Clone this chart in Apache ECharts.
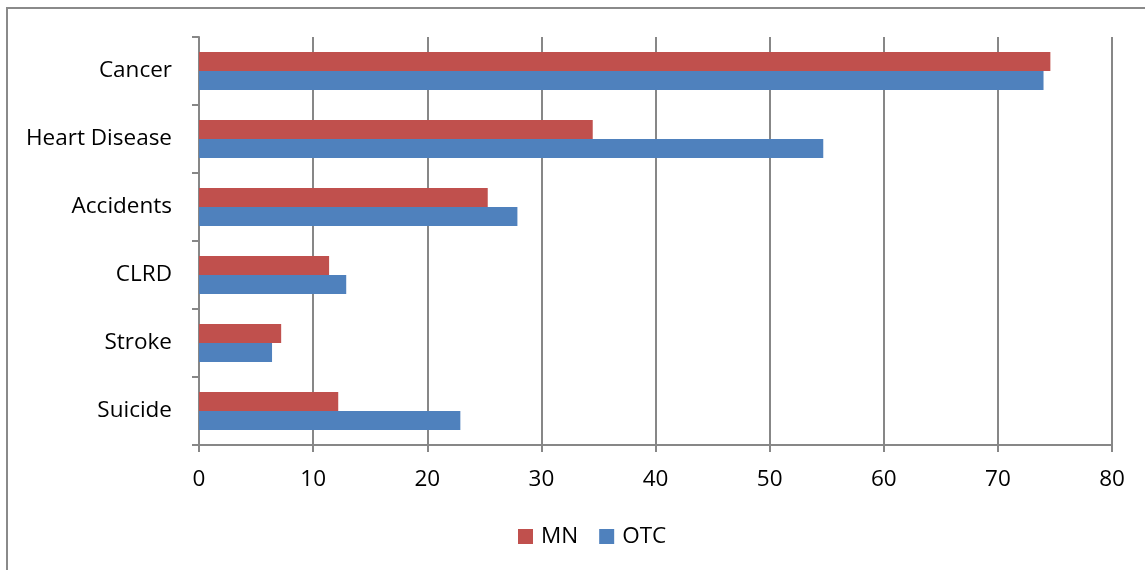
<!DOCTYPE html>
<html>
<head>
<meta charset="utf-8">
<style>
  html, body { margin: 0; padding: 0; background: #fff; }
  #chart { width: 1145px; height: 570px; }
</style>
<script src="https://cdn.jsdelivr.net/npm/echarts@6/dist/echarts.min.js"></script>
</head>
<body>
<div id="chart"></div>
<script>
// Leading causes of death, rate comparison
const categories = ['Cancer', 'Heart Disease', 'Accidents', 'CLRD', 'Stroke', 'Suicide'];
const mnValues = [74.6, 34.5, 25.3, 11.4, 7.2, 12.2];
const otcValues = [74.0, 54.7, 27.9, 12.9, 6.4, 22.9];
const xTicks = [0, 10, 20, 30, 40, 50, 60, 70, 80];

const FONT = '"Open Sans", "Noto Sans", sans-serif';
const FONT_SIZE = 22.5;
const GRID_GREY = '#878787';

const chart = echarts.init(document.getElementById('chart'), null, { renderer: 'canvas' });

chart.setOption({
  animation: false,
  backgroundColor: '#fff',
  textStyle: { fontFamily: FONT },
  graphic: [{
    type: 'rect',
    shape: { x: 7, y: 8, width: 1160, height: 600 },
    style: { fill: 'none', stroke: '#8a8a8a', lineWidth: 2 },
    silent: true
  }],
  grid: { left: 199, right: 33, top: 37, bottom: 125 },
  legend: {
    top: 520,
    left: 513,
    itemWidth: 15,
    itemHeight: 15,
    itemGap: 21,
    icon: 'rect',
    textStyle: { fontFamily: FONT, fontSize: FONT_SIZE, color: '#000', padding: [0, 0, 0, 3] },
    data: ['MN', 'OTC']
  },
  xAxis: {
    type: 'value',
    min: xTicks[0],
    max: xTicks[xTicks.length - 1],
    interval: 10,
    axisLine: { show: true, lineStyle: { color: GRID_GREY, width: 2 } },
    axisTick: { show: true, length: 7, lineStyle: { color: GRID_GREY, width: 2 } },
    splitLine: { show: true, lineStyle: { color: GRID_GREY, width: 2 } },
    axisLabel: { fontFamily: FONT, fontSize: FONT_SIZE, color: '#000', margin: 23 }
  },
  yAxis: {
    type: 'category',
    inverse: true,
    data: categories,
    axisLine: { show: true, lineStyle: { color: GRID_GREY, width: 2 } },
    axisTick: { show: true, length: 7, lineStyle: { color: GRID_GREY, width: 2 } },
    splitLine: { show: false },
    axisLabel: { fontFamily: FONT, fontSize: FONT_SIZE, color: '#000', margin: 27, padding: [3, 0, 0, 0] }
  },
  series: [
    {
      name: 'MN', type: 'bar', data: mnValues,
      barWidth: 19, barGap: '0%',
      itemStyle: { color: '#C0504D' }
    },
    {
      name: 'OTC', type: 'bar', data: otcValues,
      barWidth: 19, barGap: '0%',
      itemStyle: { color: '#4F81BD' }
    }
  ]
});
</script>
</body>
</html>
